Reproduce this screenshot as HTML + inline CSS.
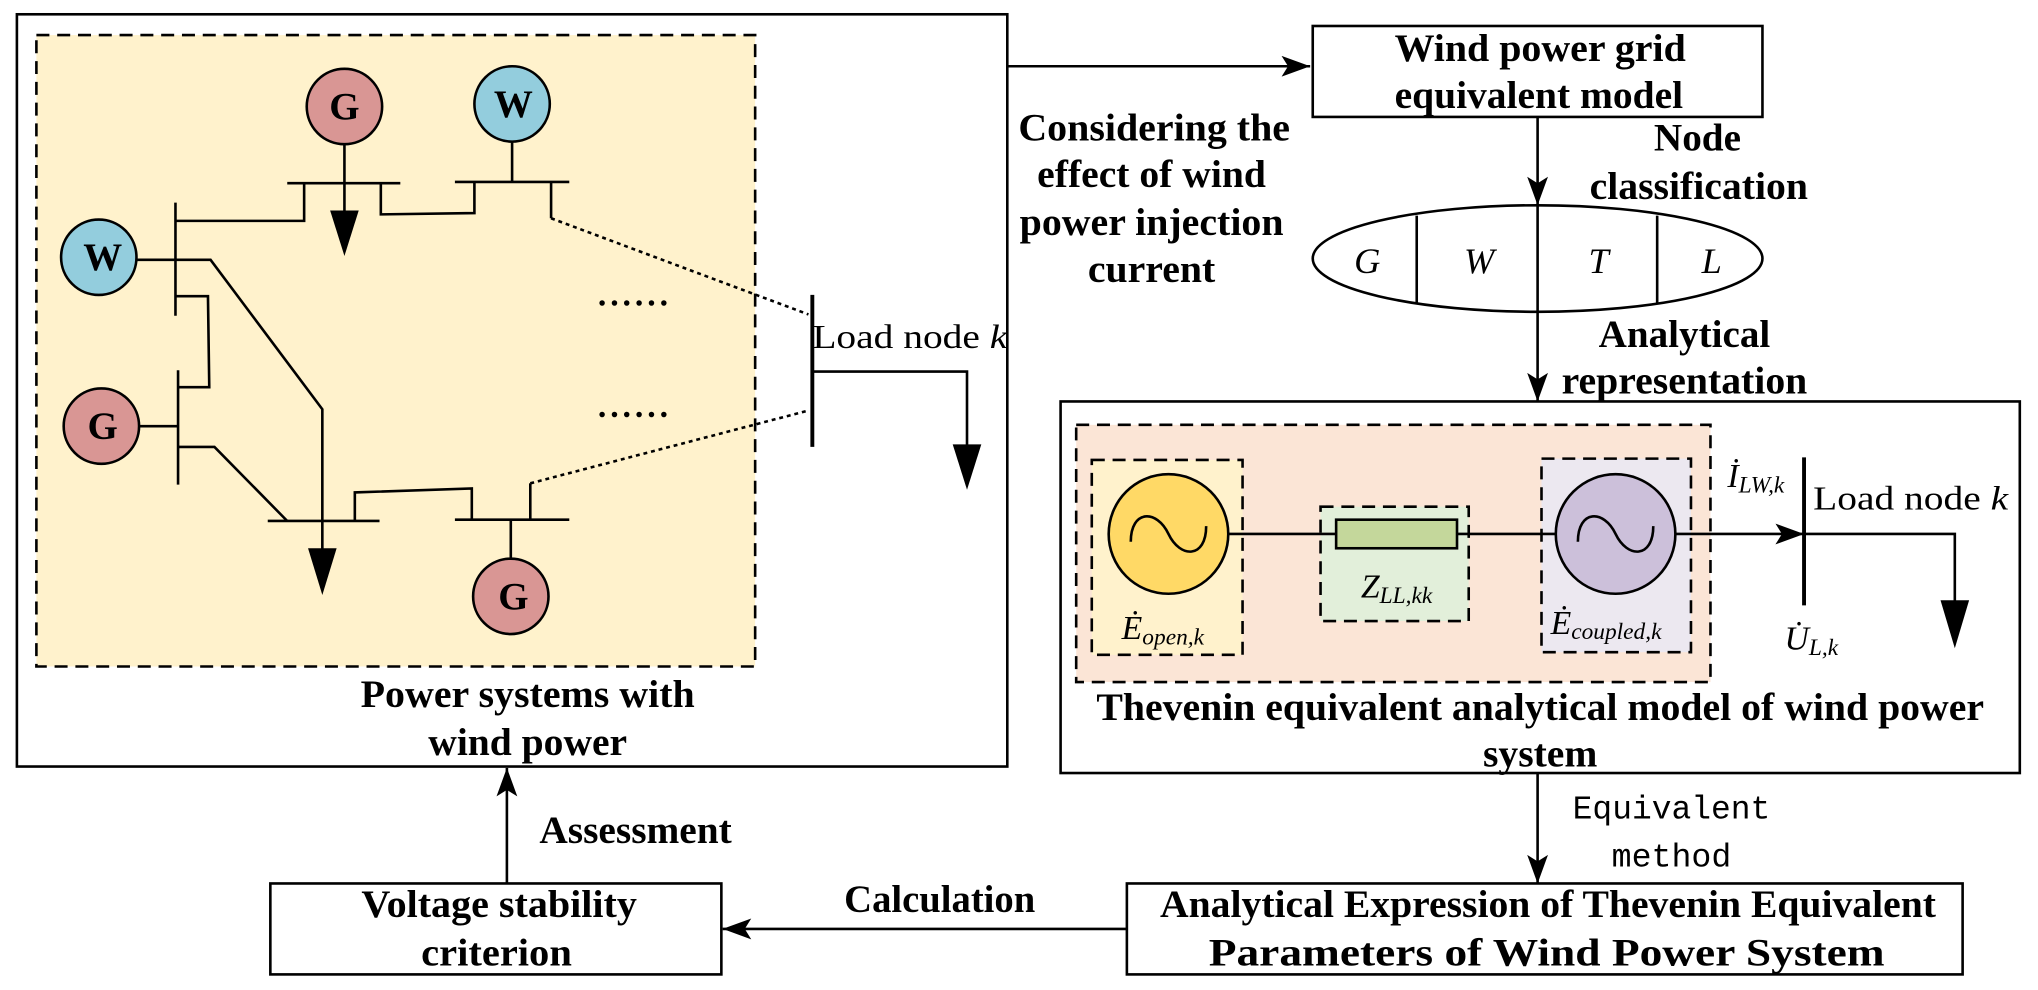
<!DOCTYPE html>
<html><head><meta charset="utf-8"><style>html,body{margin:0;padding:0;background:#fff}svg{display:block}</style></head>
<body>
<svg width="2038" height="990" viewBox="0 0 1568 762" preserveAspectRatio="none" xmlns="http://www.w3.org/2000/svg" font-family="Liberation Serif, serif">
<defs>
<marker id="ah" markerWidth="24" markerHeight="16" refX="22" refY="8" orient="auto" markerUnits="userSpaceOnUse" viewBox="0 0 24 16"><path d="M0,0 L22,8 L0,16 L5,8 z" fill="#000"/></marker>
</defs>
<g fill="none" stroke="#000" stroke-width="2">
<rect x="13" y="11" width="762" height="579" fill="#fff"/>
<rect x="28" y="27" width="553" height="486" fill="#fff2cc" stroke-dasharray="10,6"/>
<line x1="221" y1="141" x2="308" y2="141"/>
<line x1="350" y1="140" x2="438" y2="140"/>
<line x1="135" y1="156" x2="135" y2="243"/>
<line x1="137" y1="285" x2="137" y2="373"/>
<line x1="206" y1="401" x2="292" y2="401"/>
<line x1="350" y1="400" x2="438" y2="400"/>
<line x1="625" y1="227" x2="625" y2="344" stroke-width="3"/>
<polyline points="265,111 265,165"/>
<polyline points="394,109 394,140"/>
<polyline points="293,141 293,165 365,164 365,140"/>
<polyline points="234,141 234,170 135,170"/>
<polyline points="105,200 162,200 248,315 248,424"/>
<polyline points="135,228 160,228 161,298 137,298"/>
<line x1="107" y1="328" x2="137" y2="328"/>
<polyline points="137,344 165,344 221,401"/>
<polyline points="273,401 273,379 363,376 363,400"/>
<line x1="393" y1="400" x2="393" y2="430"/>
<polyline points="408,400 408,372"/>
<line x1="424" y1="140" x2="424" y2="168"/>
<line x1="408" y1="372" x2="622" y2="316" stroke-dasharray="3,3"/>
<line x1="424" y1="168" x2="622" y2="242" stroke-dasharray="3,3"/>
<polyline points="625,286 744,286 744,344"/>
</g>
<g fill="#000">
<path d="M254,162 L276,162 L265,197 z"/>
<path d="M237,422 L259,422 L248,458 z"/>
<path d="M733,342 L755,342 L744,377 z"/>
</g>
<g stroke="#000" stroke-width="2">
<circle cx="265" cy="82" r="29" fill="#d99694"/>
<circle cx="394" cy="80" r="29" fill="#93cddd"/>
<circle cx="76" cy="198" r="29" fill="#93cddd"/>
<circle cx="78" cy="328" r="29" fill="#d99694"/>
<circle cx="393" cy="459" r="29" fill="#d99694"/>
</g>
<g font-weight="bold" font-size="30" text-anchor="middle">
<text x="265" y="92">G</text><text x="395" y="90">W</text><text x="79" y="208">W</text><text x="79" y="338">G</text><text x="395" y="469">G</text>
</g>
<g font-size="26" font-weight="bold" letter-spacing="3"><text x="460" y="235">......</text><text x="460" y="321">......</text></g>
<text x="625" y="268" font-size="26" textLength="150" lengthAdjust="spacingAndGlyphs">Load node <tspan font-style="italic">k</tspan></text>

<g fill="none" stroke="#000" stroke-width="2">
<line x1="775" y1="51" x2="1008" y2="51" marker-end="url(#ah)"/>
<rect x="1010" y="20" width="346" height="70" fill="#fff"/>
<line x1="1183" y1="90" x2="1183" y2="158" marker-end="url(#ah)"/>
<ellipse cx="1183" cy="199" rx="173" ry="41" fill="#fff"/>
<line x1="1090" y1="166" x2="1090" y2="233"/>
<line x1="1183" y1="158" x2="1183" y2="240"/>
<line x1="1275" y1="166" x2="1275" y2="233"/>
<line x1="1183" y1="240" x2="1183" y2="309" marker-end="url(#ah)"/>
<rect x="816" y="309" width="738" height="286" fill="#fff"/>
<rect x="828" y="327" width="488" height="198" fill="#fbe5d6" stroke="none"/>
<rect x="828" y="327" width="488" height="198" stroke-dasharray="10,6"/>
<rect x="840" y="354" width="116" height="150" fill="#fff2cc" stroke-dasharray="10,6"/>
<rect x="1016" y="390" width="114" height="88" fill="#e2efda" stroke-dasharray="10,6"/>
<rect x="1186" y="353" width="115" height="149" fill="#ece8f0" stroke-dasharray="10,6"/>
<line x1="945" y1="411" x2="1388" y2="411" marker-end="url(#ah)"/>
<line x1="1388" y1="352" x2="1388" y2="466" stroke-width="3"/>
<polyline points="1388,411 1504,411 1504,464"/>
<line x1="1183" y1="595" x2="1183" y2="680" marker-end="url(#ah)"/>
<rect x="867" y="680" width="643" height="70" fill="#fff"/>
<rect x="208" y="680" width="347" height="70" fill="#fff"/>
<line x1="867" y1="715" x2="556" y2="715" marker-end="url(#ah)"/>
<line x1="390" y1="680" x2="390" y2="591" marker-end="url(#ah)"/>
</g>
<path d="M1493,462 L1515,462 L1504,499 z" fill="#000"/>
<rect x="1028" y="400" width="93" height="22" fill="#c4d79b" stroke="#000" stroke-width="2"/>
<circle cx="899" cy="411" r="46" fill="#ffd966" stroke="#000" stroke-width="2"/>
<circle cx="1243" cy="411" r="46" fill="#ccc0da" stroke="#000" stroke-width="2"/>
<path d="M870,417 C870,392 890,392 899,411 C908,430 928,430 928,405" fill="none" stroke="#000" stroke-width="2"/>
<path d="M1214,417 C1214,392 1234,392 1243,411 C1252,430 1272,430 1272,405" fill="none" stroke="#000" stroke-width="2"/>
<g font-style="italic" font-size="28" text-anchor="middle">
<text x="1052" y="210">G</text><text x="1138" y="210">W</text><text x="1230" y="210">T</text><text x="1317" y="210">L</text>
</g>
<text x="1395" y="392" font-size="26" textLength="150" lengthAdjust="spacingAndGlyphs">Load node <tspan font-style="italic">k</tspan></text>
<g font-style="italic" font-size="26">
<text x="1329" y="375">İ<tspan font-size="18" dy="4">LW,k</tspan></text>
<text x="1373" y="500">U̇<tspan font-size="18" dy="4">L,k</tspan></text>
<text x="863" y="492">Ė<tspan font-size="18" dy="4">open,k</tspan></text>
<text x="1047" y="460">Z<tspan font-size="18" dy="4">LL,kk</tspan></text>
<text x="1193" y="488">Ė<tspan font-size="18" dy="4">coupled,k</tspan></text>
</g>

<g font-weight="bold" font-size="30" text-anchor="middle">
<text x="406" y="544" textLength="257" lengthAdjust="spacingAndGlyphs">Power systems with</text>
<text x="406" y="581" textLength="153" lengthAdjust="spacingAndGlyphs">wind power</text>
<text x="888" y="108" textLength="209" lengthAdjust="spacingAndGlyphs">Considering the</text>
<text x="886" y="144" textLength="176" lengthAdjust="spacingAndGlyphs">effect of wind</text>
<text x="886" y="181" textLength="203" lengthAdjust="spacingAndGlyphs">power injection</text>
<text x="886" y="217" textLength="98" lengthAdjust="spacingAndGlyphs">current</text>
<text x="1185" y="47" textLength="224" lengthAdjust="spacingAndGlyphs">Wind power grid</text>
<text x="1184" y="83" textLength="222" lengthAdjust="spacingAndGlyphs">equivalent model</text>
<text x="1306" y="116" textLength="67" lengthAdjust="spacingAndGlyphs">Node</text>
<text x="1307" y="153" textLength="168" lengthAdjust="spacingAndGlyphs">classification</text>
<text x="1296" y="267" textLength="132" lengthAdjust="spacingAndGlyphs">Analytical</text>
<text x="1296" y="303" textLength="189" lengthAdjust="spacingAndGlyphs">representation</text>
<text x="1185" y="554" textLength="683" lengthAdjust="spacingAndGlyphs">Thevenin equivalent analytical model of wind power</text>
<text x="1185" y="590" textLength="88" lengthAdjust="spacingAndGlyphs">system</text>
<text x="1191" y="706" textLength="597" lengthAdjust="spacingAndGlyphs">Analytical Expression of Thevenin Equivalent</text>
<text x="1190" y="743" textLength="520" lengthAdjust="spacingAndGlyphs">Parameters of Wind Power System</text>
<text x="384" y="706" textLength="212" lengthAdjust="spacingAndGlyphs">Voltage stability</text>
<text x="382" y="743" textLength="116" lengthAdjust="spacingAndGlyphs">criterion</text>
<text x="723" y="702" textLength="147" lengthAdjust="spacingAndGlyphs">Calculation</text>
<text x="489" y="649" textLength="148" lengthAdjust="spacingAndGlyphs">Assessment</text>
</g>
<g font-family="Liberation Mono, monospace" font-size="26" text-anchor="middle">
<text x="1286" y="630" textLength="152" lengthAdjust="spacingAndGlyphs">Equivalent</text>
<text x="1286" y="667" textLength="92" lengthAdjust="spacingAndGlyphs">method</text>
</g>
</svg>
</body></html>
